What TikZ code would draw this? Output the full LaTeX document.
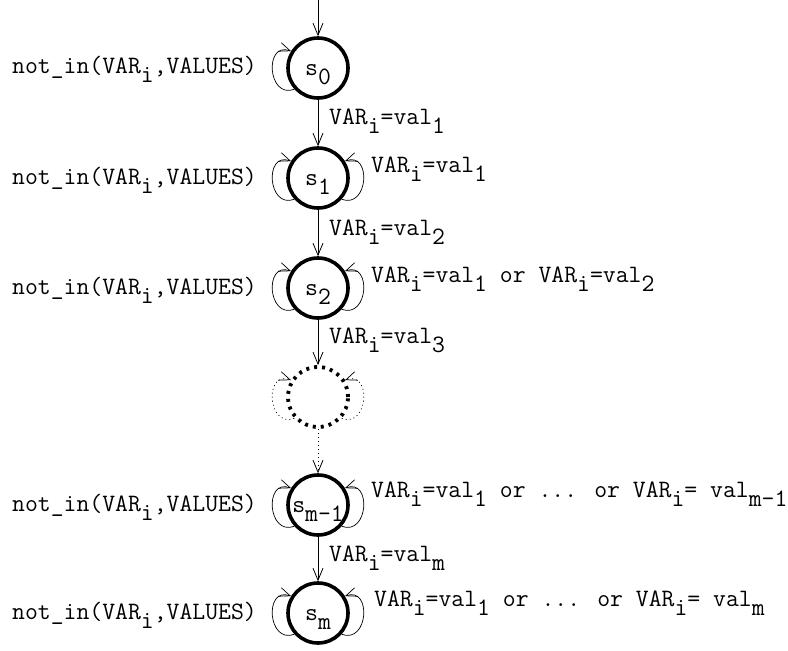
\documentclass[tikz,border=0pt]{standalone}
\usepackage{fontspec}
\usetikzlibrary{arrows.meta}
\newcommand{\sbs}[1]{\raisebox{-9pt}{#1}}
\newcommand{\inlbl}[1]{\smash{\raisebox{-7pt}{#1}}}
\begin{document}
\begin{tikzpicture}[x=1pt,y=1pt,
  every node/.style={font=\ttfamily\fontsize{25pt}{28pt}\selectfont, inner sep=0pt},
  st/.style={circle, draw, line width=3.6pt, minimum size=60pt, inner sep=0pt},
  ghost/.style={st, line width=3.8pt, dash pattern=on 3pt off 5pt},
  tr/.style={line width=0.8pt, -{Straight Barb[length=12pt,width=10pt]}},
  lp/.style={line width=0.7pt, -{Straight Barb[length=11pt,width=9pt]}},
  dlp/.style={lp, dash pattern=on 1pt off 3pt},
  ll/.style={anchor=base east},
  rl/.style={anchor=base west},
  tl/.style={anchor=base west}]
\useasboundingbox (0,0) rectangle (788,-651);
\coordinate (init) at (318,0);
\node[st] (s0) at (318,-68) {\inlbl{s\sbs{0}}};
\node[st] (s1) at (318,-178) {\inlbl{s\sbs{1}}};
\node[st] (s2) at (318,-288) {\inlbl{s\sbs{2}}};
\node[ghost] (sd) at (318,-397) {};
\node[st] (sm1) at (318,-505) {\inlbl{s\sbs{m-1}}};
\node[st] (sm) at (318,-613) {\inlbl{s\sbs{m}}};
% transitions
\draw[tr] (init) -- (s0);
\draw[tr] (s0) -- (s1);
\draw[tr] (s1) -- (s2);
\draw[tr] (s2) -- (sd);
\draw[tr, dash pattern=on 1pt off 3pt] (sd) -- (sm1);
\draw[tr] (sm1) -- (sm);
\node[tl] (t01) at (329,-124) {VAR\sbs{i}=val\sbs{1}};
\node[tl] (t12) at (329,-235) {VAR\sbs{i}=val\sbs{2}};
\node[tl] (t2d) at (329,-343) {VAR\sbs{i}=val\sbs{3}};
\node[tl] (tmm) at (329,-561) {VAR\sbs{i}=val\sbs{m}};
% left loops
\foreach \s in {s0,s1,s2,sm1,sm}
  \draw[lp] (\s.222) .. controls +(-27,-10) and +(-27,10) .. (\s.148);
\draw[dlp] (sd.222) .. controls +(-27,-10) and +(-27,10) .. (sd.148);
% right loops
\foreach \s in {s1,s2,sm1,sm}
  \draw[lp] (\s.318) .. controls +(27,-10) and +(27,10) .. (\s.32);
\draw[dlp] (sd.318) .. controls +(27,-10) and +(27,10) .. (sd.32);
% left labels
\node[ll] (n0) at (257,-73) {not\_in(VAR\sbs{i},VALUES)};
\node[ll] (n1) at (257,-184) {not\_in(VAR\sbs{i},VALUES)};
\node[ll] (n2) at (257,-294) {not\_in(VAR\sbs{i},VALUES)};
\node[ll] (n4) at (257,-511) {not\_in(VAR\sbs{i},VALUES)};
\node[ll] (n5) at (257,-619) {not\_in(VAR\sbs{i},VALUES)};
% right labels
\node[rl] (r1) at (371,-172) {VAR\sbs{i}=val\sbs{1}};
\node[rl] (r2) at (371,-282) {VAR\sbs{i}=val\sbs{1} or VAR\sbs{i}=val\sbs{2}};
\node[rl] (r4) at (371,-497) {VAR\sbs{i}=val\sbs{1} or ... or VAR\sbs{i}= val\sbs{m-1}};
\node[rl] (r5) at (374,-606) {VAR\sbs{i}=val\sbs{1} or ... or VAR\sbs{i}= val\sbs{m}};
\end{tikzpicture}
\end{document}
